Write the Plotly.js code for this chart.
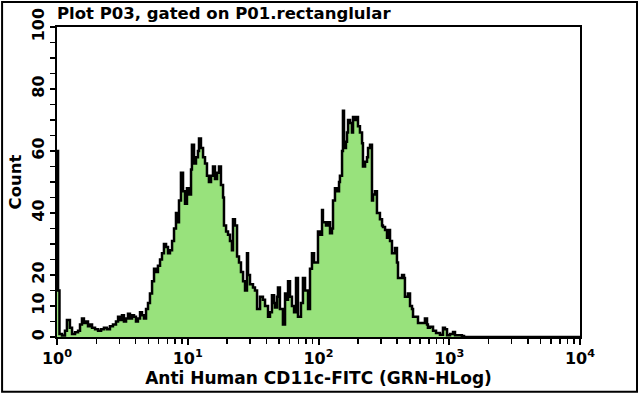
<!DOCTYPE html>
<html>
<head>
<meta charset="utf-8">
<script src="https://cdn.plot.ly/plotly-3.0.1.min.js"></script>
<style>
  html, body { margin: 0; padding: 0; background: #fff; }
  #chart { width: 640px; height: 395px; }
</style>
</head>
<body>
<div id="chart"></div>
<script>
// Histogram step breakpoints: left edge of each step (log10 of fluorescence) and its count
const logChannel = [
  0.000, 0.008, 0.019, 0.038, 0.061, 0.076, 0.099, 0.115, 0.138, 0.161,
  0.176, 0.191, 0.206, 0.222, 0.237, 0.252, 0.268, 0.291, 0.314, 0.337,
  0.359, 0.382, 0.405, 0.428, 0.451, 0.467, 0.482, 0.497, 0.512, 0.528,
  0.543, 0.558, 0.574, 0.589, 0.604, 0.619, 0.635, 0.650, 0.665, 0.681,
  0.696, 0.711, 0.727, 0.742, 0.757, 0.772, 0.788, 0.803, 0.818, 0.834,
  0.849, 0.864, 0.880, 0.895, 0.910, 0.918, 0.933, 0.948, 0.964, 0.979,
  0.994, 1.010, 1.025, 1.032, 1.048, 1.063, 1.078, 1.086, 1.101, 1.117,
  1.132, 1.147, 1.162, 1.178, 1.193, 1.208, 1.224, 1.239, 1.254, 1.270,
  1.277, 1.293, 1.308, 1.323, 1.338, 1.346, 1.361, 1.377, 1.392, 1.407,
  1.423, 1.438, 1.453, 1.461, 1.476, 1.499, 1.514, 1.530, 1.553, 1.575,
  1.591, 1.614, 1.629, 1.644, 1.660, 1.667, 1.683, 1.690, 1.705, 1.728,
  1.744, 1.759, 1.767, 1.782, 1.797, 1.813, 1.828, 1.843, 1.866, 1.881,
  1.897, 1.920, 1.935, 1.950, 1.966, 1.988, 1.996, 2.011, 2.027, 2.034,
  2.057, 2.073, 2.088, 2.103, 2.111, 2.126, 2.141, 2.157, 2.164, 2.180,
  2.187, 2.195, 2.210, 2.218, 2.226, 2.241, 2.256, 2.264, 2.279, 2.294,
  2.302, 2.317, 2.333, 2.340, 2.356, 2.371, 2.379, 2.394, 2.409, 2.417,
  2.432, 2.447, 2.470, 2.486, 2.493, 2.509, 2.524, 2.531, 2.547, 2.562,
  2.585, 2.600, 2.608, 2.623, 2.639, 2.654, 2.661, 2.684, 2.700, 2.715,
  2.723, 2.753, 2.761, 2.792, 2.814, 2.830, 2.837, 2.853, 2.876, 2.899,
  2.929, 2.952, 2.967, 2.983, 3.006, 3.029, 3.044, 3.059, 3.082, 3.097,
  3.113, 4.000
];
const counts = [
  60, 15, 1, 0.5, 2, 5.5, 3, 1, 1.5, 2,
  4, 6, 4.5, 5, 3.5, 4, 3, 2.5, 2, 2.5,
  3, 2.5, 3.5, 4, 5, 6.5, 5.5, 7, 5, 6,
  7.5, 6, 7, 6.5, 5, 6, 8, 7, 6, 9,
  11, 14, 18, 22, 21, 23, 25, 27, 30, 29,
  27, 28, 31, 35, 40, 37, 44, 53, 47, 43,
  48, 46, 54, 62, 56, 58, 60, 64, 61, 58,
  56, 52, 50, 52, 55, 51, 53, 55, 49, 45,
  36, 34, 33, 31, 28, 38, 36, 26, 24, 21,
  18, 15, 27, 20, 17, 16, 15, 9, 13, 12,
  10, 6.5, 8, 13.5, 11, 9.5, 13, 16, 9, 4,
  14, 12, 18, 13, 10, 8, 19, 6.5, 11, 19,
  15, 9, 22, 27, 24, 24, 34, 33, 41, 37,
  36, 37, 33.5, 35, 44, 48, 47, 50, 52, 60,
  73, 61, 63, 66, 70, 69, 66, 71, 70, 71,
  68, 66, 62.5, 55, 56.5, 58, 61, 62, 44, 46,
  47, 40, 38, 36, 35.5, 34.5, 32, 34.5, 31, 27,
  28.7, 24, 19, 19, 20, 19, 13, 14, 10, 9,
  6.5, 6.5, 4.5, 4.5, 6, 4, 3, 3.3, 2, 1.3,
  0.7, 3, 2.5, 0.6, 1, 1.6, 0.6, 0.6, 0.6, 0.3,
  0, 0
];
const xTickVals = [1, 10, 100, 1000, 10000];
const xTickText = ['10<sup>0</sup>', '10<sup>1</sup>', '10<sup>2</sup>', '10<sup>3</sup>', '10<sup>4</sup>'];
const yTickVals = [0, 10, 20, 40, 60, 80, 100];
const yTickText = ['0', '10', '20', '40', '60', '80', '100'];

const minorX = [];
for (let d = 0; d < 4; d++) for (let k = 2; k <= 9; k++) minorX.push(k * Math.pow(10, d));

const FONT = 'DejaVu Sans, sans-serif';

const trace = {
  type: 'scatter',
  mode: 'lines',
  x: logChannel.map(v => Math.pow(10, v)),
  y: counts,
  line: { shape: 'hv', color: '#000', width: 2.5 },
  fill: 'tozeroy',
  fillcolor: '#98e27c',
  hoverinfo: 'skip'
};

const layout = {
  width: 640, height: 395,
  margin: { l: 57, r: 60, t: 27, b: 58 },
  paper_bgcolor: '#fff', plot_bgcolor: '#fff',
  showlegend: false,
  font: { family: FONT, color: '#000', size: 12 },
  title: {
    text: 'Plot P03, gated on P01.rectanglular',
    font: { family: FONT, size: 16.5, color: '#000', weight: 'bold' },
    x: 57 / 640, xanchor: 'left', xref: 'container',
    y: 1 - 13 / 395, yanchor: 'middle', yref: 'container'
  },
  xaxis: {
    type: 'log', range: [0, 4],
    tickmode: 'array', tickvals: xTickVals, ticktext: xTickText,
    ticks: 'outside', ticklen: 6, tickwidth: 2, tickcolor: '#000',
    minor: { tickmode: 'array', tickvals: minorX, ticks: 'outside', ticklen: 5, tickwidth: 1.5, tickcolor: '#000' },
    showline: true, linecolor: '#000', linewidth: 2, mirror: true,
    showgrid: false, zeroline: false,
    tickfont: { family: FONT, size: 16, color: '#000', weight: 'bold' },
    title: { text: 'Anti Human CD11c-FITC (GRN-HLog)', font: { family: FONT, size: 17, color: '#000', weight: 'bold' }, standoff: 4 },
    automargin: false
  },
  yaxis: {
    range: [0, 100],
    tickmode: 'array', tickvals: yTickVals, ticktext: yTickText,
    tickangle: -90,
    ticks: 'outside', ticklen: 5, tickwidth: 2, tickcolor: '#000',
    minor: { dtick: 5, ticks: 'outside', ticklen: 5, tickwidth: 1.5, tickcolor: '#000' },
    showline: true, linecolor: '#000', linewidth: 2, mirror: true,
    showgrid: false, zeroline: false,
    tickfont: { family: FONT, size: 16, color: '#000', weight: 'bold' },
    title: { text: 'Count', font: { family: FONT, size: 16.5, color: '#000', weight: 'bold' }, standoff: 3 },
    automargin: false
  },
  shapes: [{
    type: 'rect', xref: 'paper', yref: 'paper',
    x0: -0.105, x1: 1.109, y0: -0.177, y1: 1.081,
    line: { color: '#000', width: 2 }, fillcolor: 'rgba(0,0,0,0)', layer: 'below'
  }]
};

Plotly.newPlot('chart', [trace], layout, { staticPlot: true, displayModeBar: false });
</script>
</body>
</html>
